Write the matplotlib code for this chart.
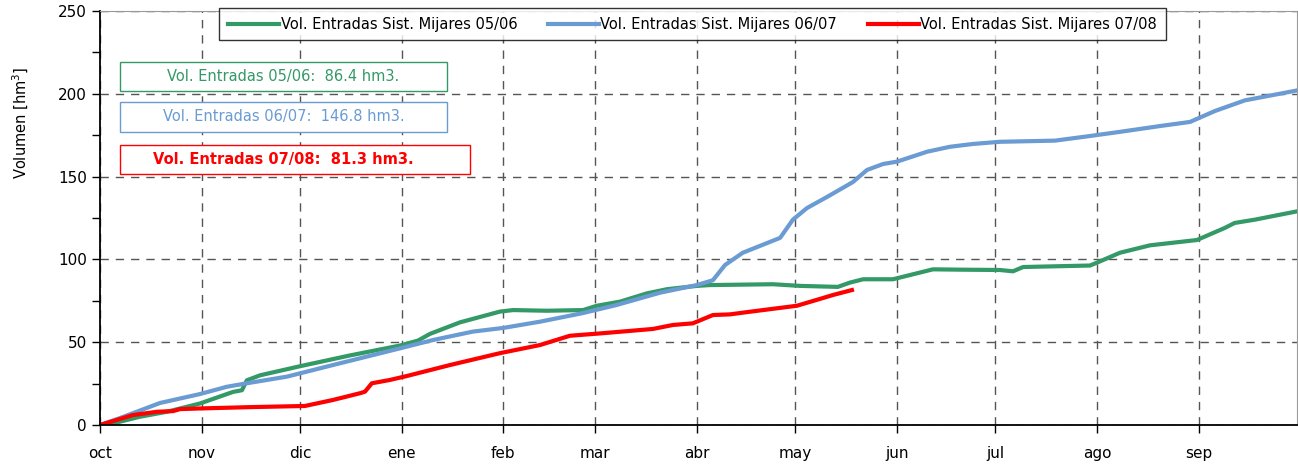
import matplotlib
matplotlib.use("Agg")
import matplotlib.pyplot as plt
from matplotlib.patches import Rectangle

# dias desde 1 oct
month_days = [0, 31, 61, 92, 123, 151, 182, 212, 243, 273, 304, 335]
month_labels = ["oct", "nov", "dic", "ene", "feb", "mar", "abr", "may", "jun", "jul", "ago", "sep"]

d_0506 = [0, 4.0, 12.2, 20.4, 30.5, 40.6, 43.3, 44.8, 48.8, 61, 76.2, 91.5, 97, 100.6, 109.8,
          122, 126, 136.3, 147.3, 151.5, 158.6, 166.8, 172.9, 182, 186, 205.2, 213.5, 225,
          228.7, 232.7, 241.8, 254, 262.2, 274.4, 278.4, 281.5, 301.9, 304, 311, 320.2,
          334.5, 343, 346, 352.2, 365]
v_0506 = [0, 1, 5, 8, 13, 20, 21, 27, 30, 35.5, 42, 48, 51, 55, 62,
          68.5, 69.4, 69, 69.4, 72, 74.5, 79.5, 82, 84, 84.5, 85, 84, 83.4,
          86, 88, 88, 94, 93.8, 93.6, 92.8, 95.4, 96.3, 98, 104, 108.5,
          111.7, 119, 122, 124, 129]

d_0607 = [0, 6.1, 18.3, 30.5, 38.7, 44.8, 57, 71, 91.5, 101.5, 113.7, 122.9, 134.2, 147.3,
          157.6, 170.8, 182, 186.9, 190.6, 196, 207.4, 211.3, 215.6, 221.7, 229.6, 233.9,
          238.8, 243, 252.2, 259.2, 266.2, 274.4, 291.2, 301.9, 311, 323.2, 332.4, 340,
          349.1, 365]
v_0607 = [0, 4.2, 13.3, 18.7, 23.1, 25.2, 29.2, 36.2, 46.3, 51.3, 56.4, 58.6, 62.4, 67.6,
          72.5, 79.9, 84.5, 87.4, 96.6, 104, 113, 124, 131, 137.7, 146.7, 154,
          157.6, 159, 165, 168, 169.7, 171, 171.7, 174.5, 177, 180.5, 183, 189.6,
          196, 202]

d_0708 = [0, 10, 17.4, 22.3, 24.4, 30.5, 45.7, 62.5, 71, 79.3, 80.8, 82.9, 88.4, 93.6,
          106.7, 122, 134.2, 143.3, 152.5, 168.6, 174.7, 180.8, 186.9, 192.1, 198.2,
          212.5, 220.5, 223.5, 229.3]
v_0708 = [0, 6, 8, 8.4, 9.6, 10, 10.8, 11.5, 15.1, 19.2, 20.1, 25.2, 27.2, 29.6,
          36.2, 43.4, 48.3, 53.9, 55.3, 58, 60.4, 61.4, 66.4, 66.8, 68.4,
          72, 76.7, 78.5, 81.5]

totals = ["Vol. Entradas 05/06:  86.4 hm3.",
          "Vol. Entradas 06/07:  146.8 hm3.",
          "Vol. Entradas 07/08:  81.3 hm3."]

c_green = "#339966"
c_blue = "#6A9BD3"
c_red = "#FF0000"

fig = plt.figure(figsize=(12.98, 4.70), dpi=100)
ax = fig.add_axes([0.077, 0.0957, 0.9222, 0.881])

ax.plot(d_0506, v_0506, color=c_green, lw=3, label="Vol. Entradas Sist. Mijares 05/06")
ax.plot(d_0607, v_0607, color=c_blue, lw=3, label="Vol. Entradas Sist. Mijares 06/07")
ax.plot(d_0708, v_0708, color=c_red, lw=3, label="Vol. Entradas Sist. Mijares 07/08")

ax.set_xlim(0, 365)
ax.set_ylim(0, 250)
ax.set_xticks(month_days)
ax.set_xticklabels(month_labels, fontsize=11)
ax.set_yticks([0, 50, 100, 150, 200, 250])
ax.set_yticks([25, 75, 125, 175, 225], minor=True)
ax.tick_params(axis="both", which="both", direction="out", length=6, width=1, labelsize=11)
ax.tick_params(axis="x", pad=9)
ax.grid(True, which="major", color="#555555", linestyle=(0, (6, 5)), linewidth=1)

ax.spines["top"].set_color("#999999")
ax.spines["right"].set_color("#999999")
ax.spines["left"].set_linewidth(1.3)
ax.spines["bottom"].set_linewidth(1.3)

ax.set_ylabel("Volumen [hm$^3$]", fontsize=10.5)
ax.yaxis.set_label_coords(-0.058, 0.73)

leg = ax.legend(loc="upper center", bbox_to_anchor=(0.495, 1.025), ncol=3, fontsize=10.5,
                frameon=True, fancybox=False, edgecolor="black", handlelength=3.5,
                handletextpad=0.1, columnspacing=2.1, borderpad=0.6)
leg.get_frame().set_linewidth(1)
leg.set_zorder(10)

# cuadros de totales
boxes = [(0.0167, 0.807, 0.2733, 0.070, c_green, "normal"),
         (0.0167, 0.708, 0.2733, 0.072, c_blue, "normal"),
         (0.0167, 0.606, 0.2925, 0.070, c_red, "bold")]
for (x0, y0, w, h, col, wt), txt in zip(boxes, totals):
    ax.add_patch(Rectangle((x0, y0), w, h, transform=ax.transAxes, fill=True,
                           facecolor="white", edgecolor=col, lw=1, zorder=5))
    ax.text(x0 + 0.1367, y0 + h / 2, txt, transform=ax.transAxes, color=col,
            fontsize=10.5, fontweight=wt, ha="center", va="center", zorder=6)

fig.savefig("out.png", dpi=100)
